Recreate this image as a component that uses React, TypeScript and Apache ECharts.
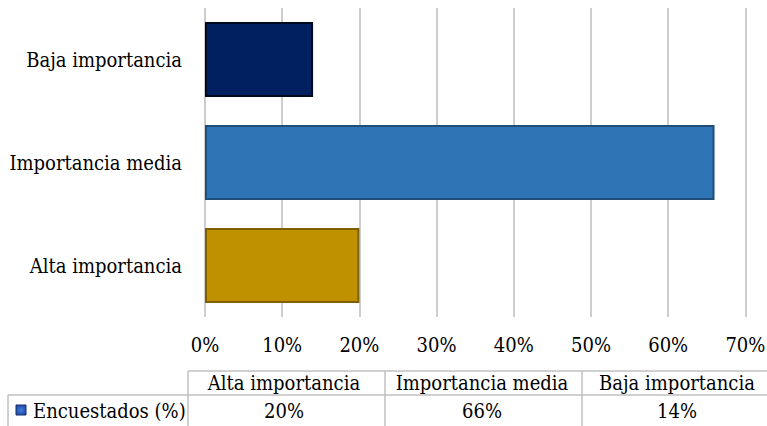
import React, { useEffect, useRef } from "react";
import * as echarts from "echarts";

const categories = ["Alta importancia", "Importancia media", "Baja importancia"];
const values = [20, 66, 14];
const seriesName = "Encuestados (%)";
const xTicks = [0, 10, 20, 30, 40, 50, 60, 70];

const barFills = ["#bf9000", "#2e75b6", "#002060"];
const barBorders = ["#7f6000", "#1f4e79", "#000a1e"];

const FONT = "DejaVu Serif Condensed";

export default function App() {
  const ref = useRef<HTMLDivElement>(null);
  useEffect(() => {
    if (!ref.current) return;
    const chart = echarts.init(ref.current, null, { renderer: "svg" });

    const colCenters = [284, 482, 677];
    const lineStyle = { stroke: "#c0c0c0", lineWidth: 1.5 };
    const textStyle = (text: string, x: number, y: number, align = "center") => ({
      type: "text",
      style: {
        text,
        x,
        y,
        align,
        verticalAlign: "middle",
        fontSize: 20,
        fontFamily: FONT,
        fill: "#000",
      },
    });

    const graphics: any[] = [
      { type: "line", shape: { x1: 188, y1: 371, x2: 767, y2: 371 }, style: lineStyle },
      { type: "line", shape: { x1: 8, y1: 395, x2: 767, y2: 395 }, style: lineStyle },
      { type: "line", shape: { x1: 8, y1: 395, x2: 8, y2: 430 }, style: lineStyle },
      { type: "line", shape: { x1: 188, y1: 371, x2: 188, y2: 430 }, style: lineStyle },
      { type: "line", shape: { x1: 385, y1: 371, x2: 385, y2: 430 }, style: lineStyle },
      { type: "line", shape: { x1: 582, y1: 371, x2: 582, y2: 430 }, style: lineStyle },
      {
        type: "rect",
        shape: { x: 16, y: 405, width: 10, height: 10 },
        style: {
          fill: new echarts.graphic.RadialGradient(0.5, 0.5, 0.7, [
            { offset: 0, color: "#3f7ee0" },
            { offset: 1, color: "#1a3f9a" },
          ]),
          stroke: "#1a2f6a",
          lineWidth: 1,
        },
      },
      textStyle(seriesName, 33, 411, "left"),
    ];
    categories.forEach((c, i) => {
      graphics.push(textStyle(c, colCenters[i], 383));
      graphics.push(textStyle(values[i] + "%", colCenters[i], 411));
    });

    chart.setOption({
      animation: false,
      grid: { left: 205, right: 21.6, top: 8, bottom: 109, containLabel: false, outerBoundsMode: "none" },
      xAxis: {
        type: "value",
        min: xTicks[0],
        max: xTicks[xTicks.length - 1],
        interval: 10,
        axisLine: { show: false },
        axisTick: { show: false },
        splitLine: { show: true, lineStyle: { color: "#bdbdbd", width: 1.5 } },
        axisLabel: {
          formatter: "{value}%",
          fontSize: 20,
          fontFamily: FONT,
          color: "#000",
          margin: 18,
        },
      },
      yAxis: {
        type: "category",
        data: categories,
        axisLine: { show: false },
        axisTick: { show: false },
        axisLabel: {
          fontSize: 20,
          fontFamily: FONT,
          color: "#000",
          margin: 23,
        },
      },
      series: [
        {
          name: seriesName,
          type: "bar",
          barWidth: 75,
          data: values.map((v, i) => ({
            value: v,
            itemStyle: {
              color: barFills[i],
              borderColor: barBorders[i],
              borderWidth: 2,
            },
          })),
        },
      ],
      graphic: graphics,
    });
    return () => chart.dispose();
  }, []);
  return (
    <div
      ref={ref}
      style={{ position: "fixed", left: 0, top: 0, width: 767, height: 426, background: "#fff" }}
    />
  );
}
